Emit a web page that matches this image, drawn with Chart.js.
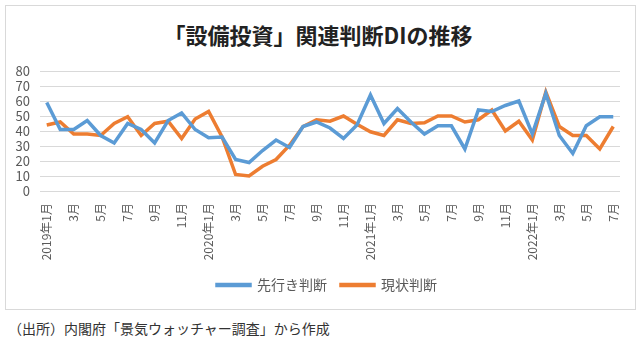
<!DOCTYPE html>
<html>
<head>
<meta charset="utf-8">
<script src="https://cdn.jsdelivr.net/npm/chart.js@4.4.0/dist/chart.umd.min.js"></script>
<style>
    body { margin: 0; background: #fff; }
    #frame { position: absolute; left: 5px; top: 5px; width: 629px; height: 303px; border: 1px solid #d9d9d9; }
    #title { position: absolute; left: 0; top: 20px; width: 636px; text-align: center; font-family: "Noto Sans CJK JP"; font-size: 22px; font-weight: bold; color: #222; line-height: 28px; }
    #wrap { position: absolute; left: 0; top: 0; width: 640px; height: 310px; }
    #source { position: absolute; left: 8px; top: 318px; font-family: "Noto Sans CJK JP"; font-size: 14px; color: #333; }
</style>
</head>
<body>
<div id="frame"></div>
<div id="title">「設備投資」関連判断DIの推移</div>
<div id="wrap"><canvas id="char_di"></canvas></div>
<div id="source">（出所）内閣府「景気ウォッチャー調査」から作成</div>
<script>
var months = [
    "2019年1月", "2月", "3月", "4月", "5月", "6月", "7月", "8月", "9月", "10月", "11月", "12月",
    "2020年1月", "2月", "3月", "4月", "5月", "6月", "7月", "8月", "9月", "10月", "11月", "12月",
    "2021年1月", "2月", "3月", "4月", "5月", "6月", "7月", "8月", "9月", "10月", "11月", "12月",
    "2022年1月", "2月", "3月", "4月", "5月", "6月", "7月",
];
// 先行き判断DI
var outlook = [
    59, 41, 41, 47, 37, 32, 45, 41, 32, 47, 52, 41,
    35.5, 36, 21, 19, 27, 34, 29, 43, 46, 42, 35, 44,
    64, 45, 55, 46, 38, 43.5, 43.5, 28, 54, 53, 57, 60,
    38, 65, 37, 25, 43.5, 49.5, 49.5,
];
// 現状判断DI
var current = [
    44, 46, 38, 38, 37, 45, 49.5, 37, 45, 46.5, 35, 48,
    53, 36, 11, 10, 16.5, 21, 30.5, 43, 47.5, 46.5, 50, 44.5,
    39.5, 37, 47.5, 45, 45.5, 50, 50, 46, 47.5, 54, 40, 46.5,
    34, 66, 43, 37, 37, 28, 43,
];
var yTicks = [0, 10, 20, 30, 40, 50, 60, 70, 80];

var jp = "Noto Sans CJK JP";

// the original legend sits a bit right of the canvas centre
var legendShift = {
    id: "legendShift",
    afterLayout: function (c) {
        c.legend.left += 17;
        c.legend.right += 17;
    },
};

var chart = document.getElementById("char_di");
var ctx = chart.getContext("2d");
var myChart = new Chart(ctx, {
    type: "line",
    data: {
        labels: months,
        datasets: [
            {
                label: "先行き判断",
                data: outlook,
                borderColor: "#5B9BD5",
                backgroundColor: "#5B9BD5",
                borderWidth: 3.5,
                pointRadius: 0,
                tension: 0,
            },
            {
                label: "現状判断",
                data: current,
                borderColor: "#ED7D31",
                backgroundColor: "#ED7D31",
                borderWidth: 3.5,
                pointRadius: 0,
                tension: 0,
            },
        ],
    },
    plugins: [legendShift],
    options: {
        responsive: true,
        maintainAspectRatio: false,
        animation: false,
        layout: {
            padding: { left: 0, right: 20, top: 71, bottom: 8 },
        },
        plugins: {
            title: { display: false },
            legend: {
                position: "bottom",
                labels: {
                    color: "#595959",
                    font: { family: jp, size: 14 },
                    boxWidth: 33,
                    boxHeight: 1,
                    padding: 14,
                },
            },
            tooltip: { enabled: false },
        },
        scales: {
            x: {
                offset: true,
                grid: { display: false },
                border: { display: false },
                ticks: {
                    autoSkip: false,
                    minRotation: 90,
                    maxRotation: 90,
                    color: "#595959",
                    font: { family: jp, size: 12 },
                    padding: 4,
                    callback: function (value, index) {
                        return index % 2 == 0 ? months[index] : "";
                    },
                },
                afterFit: function (scale) {
                    scale.height = 73;
                },
            },
            y: {
                min: 0,
                max: 80,
                grid: { color: "#d9d9d9", drawTicks: false, lineWidth: 1 },
                border: { display: false },
                afterBuildTicks: function (scale) {
                    scale.ticks = yTicks.map(function (v) { return { value: v }; });
                },
                ticks: {
                    autoSkip: false,
                    color: "#595959",
                    font: { family: jp, size: 13 },
                    padding: 10,
                },
                afterFit: function (scale) {
                    scale.width = 40;
                },
            },
        },
    },
});
</script>
</body>
</html>
